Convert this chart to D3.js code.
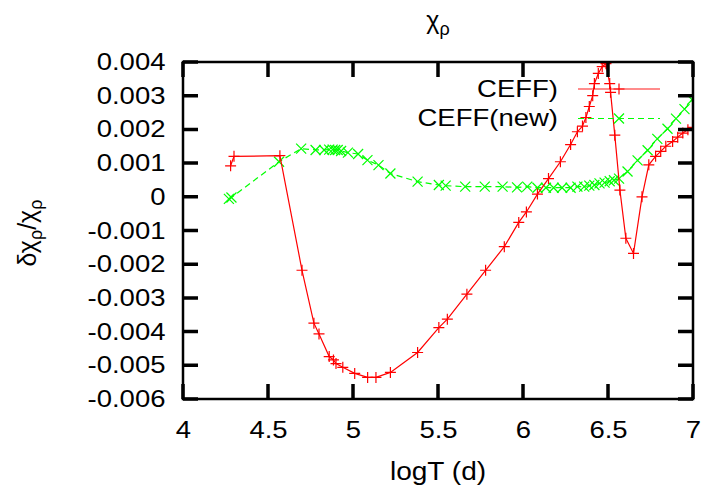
<!DOCTYPE html>
<html>
<head>
<meta charset="utf-8">
<script src="https://cdn.jsdelivr.net/npm/d3@7"></script>
<style>
body { margin: 0; background: #fff; }
text { font-family: "Liberation Sans", Arial, Helvetica, sans-serif; }
</style>
</head>
<body>
<div id="chart"></div>
<script>
// CEFF) -> red, "+" markers, solid line
const ceff_x = [4.28, 4.30, 4.57, 4.70, 4.77, 4.80, 4.86, 4.885, 4.90, 4.94, 5.01, 5.086, 5.135, 5.22,
    5.38, 5.505, 5.555, 5.67, 5.78, 5.89, 5.975, 6.02, 6.085, 6.15, 6.22, 6.28, 6.32, 6.35, 6.37, 6.39,
    6.41, 6.42, 6.443, 6.466, 6.488, 6.51, 6.515, 6.54, 6.57, 6.605, 6.65, 6.70, 6.74, 6.78, 6.81, 6.84,
    6.88, 6.91, 6.94, 6.97, 7.0];
const ceff_y = [0.00092, 0.00120, 0.00122, -0.00218, -0.00375, -0.00407, -0.00474, -0.00484, -0.00495,
    -0.00506, -0.00524, -0.00536, -0.00536, -0.00521, -0.00462, -0.00388, -0.00363, -0.00289, -0.00218,
    -0.00148, -0.00076, -0.00045, 0.00008, 0.00054, 0.00104, 0.00155, 0.00193, 0.00210, 0.00235, 0.00268,
    0.00300, 0.00336, 0.00366, 0.00386, 0.00395, 0.00336, 0.00310, 0.00183, 0.00020, -0.00123, -0.00168,
    0.00000, 0.00095, 0.00120, 0.00135, 0.00150, 0.00164, 0.00177, 0.00189, 0.00199, 0.00206];

// CEFF(new) -> green, "x" markers, dashed line
const ceff_new_x = [4.27, 4.285, 4.565, 4.695, 4.78, 4.83, 4.86, 4.88, 4.895, 4.91, 4.93, 4.97, 5.03,
    5.085, 5.15, 5.22, 5.38, 5.505, 5.545, 5.66, 5.775, 5.88, 5.965, 6.025, 6.085, 6.135, 6.18, 6.23,
    6.28, 6.32, 6.36, 6.39, 6.42, 6.45, 6.48, 6.51, 6.535, 6.565, 6.615, 6.674, 6.733, 6.79, 6.85, 6.90,
    6.95, 6.995];
const ceff_new_y = [-0.00006, -0.00002, 0.00104, 0.00143, 0.00139, 0.00139, 0.00140, 0.00140, 0.00139,
    0.00139, 0.00136, 0.00131, 0.00127, 0.00109, 0.00094, 0.00069, 0.00045, 0.00035, 0.00033, 0.00030,
    0.00030, 0.00030, 0.00028, 0.00030, 0.00027, 0.00027, 0.00027, 0.00027, 0.00027, 0.00030, 0.00030,
    0.00033, 0.00035, 0.00040, 0.00042, 0.00046, 0.00049, 0.00054, 0.00075, 0.00108, 0.00138, 0.00172,
    0.00202, 0.00232, 0.00260, 0.00288];

const series_names = ["CEFF)", "CEFF(new)"];
const series_colors = ["#ff0000", "#00ff00"];

const x_ticks = [4, 4.5, 5, 5.5, 6, 6.5, 7];
const x_tick_labels = ["4", "4.5", "5", "5.5", "6", "6.5", "7"];
const y_ticks = [0.004, 0.003, 0.002, 0.001, 0, -0.001, -0.002, -0.003, -0.004, -0.005, -0.006];
const y_tick_labels = ["0.004", "0.003", "0.002", "0.001", "0", "-0.001", "-0.002", "-0.003", "-0.004", "-0.005", "-0.006"];

const width = 712, height = 490;
const margin = {left: 183, top: 62, right: 19, bottom: 91};
const plot_w = width - margin.left - margin.right;
const plot_h = height - margin.top - margin.bottom;
const tick_len = 15;
const font_size = "23.5px";
const stretch = "scale(1.17,1)";

const x = d3.scaleLinear().domain([4, 7]).range([0, plot_w]);
const y = d3.scaleLinear().domain([-0.006, 0.004]).range([plot_h, 0]);

let svg = d3.select("#chart")
            .append("svg")
            .attr("width", width)
            .attr("height", height);

let g = svg.append("g").attr("transform", `translate(${margin.left},${margin.top})`);

// tick labels from the d3 axes
let x_axis = g.append("g")
              .attr("transform", `translate(0,${plot_h})`)
              .call(d3.axisBottom(x).tickValues(x_ticks).tickFormat((d, i) => x_tick_labels[i]).tickSize(0));
x_axis.select(".domain").remove();
x_axis.selectAll("text")
      .attr("y", 39).attr("dy", 0)
      .attr("transform", stretch)
      .attr("fill", "#000")
      .style("font-size", font_size);

let y_axis = g.append("g")
              .call(d3.axisLeft(y).tickValues(y_ticks).tickFormat((d, i) => y_tick_labels[i]).tickSize(0));
y_axis.select(".domain").remove();
y_axis.selectAll("text")
      .attr("x", -15)
      .attr("transform", stretch)
      .attr("fill", "#000")
      .style("font-size", font_size);

// data
g.append("clipPath").attr("id", "clip")
 .append("rect").attr("x", -1).attr("y", -1).attr("width", plot_w + 2).attr("height", plot_h + 2);

const plus_path = "M-5.5,0H5.5M0,-5.5V5.5";
const cross_path = "M-5,-5L5,5M-5,5L5,-5";

const line = d3.line().x(d => x(d[0])).y(d => y(d[1]));

let data_g = g.append("g").attr("clip-path", "url(#clip)");

let ceff = d3.zip(ceff_x, ceff_y);
let ceff_new = d3.zip(ceff_new_x, ceff_new_y);

data_g.append("path")
      .attr("d", line(ceff_new))
      .attr("fill", "none")
      .attr("stroke", series_colors[1])
      .attr("stroke-width", 1.2)
      .attr("stroke-dasharray", "6,4");
data_g.selectAll(".pt-new")
      .data(ceff_new)
      .enter()
      .append("path")
      .attr("class", "pt-new")
      .attr("transform", d => `translate(${x(d[0])},${y(d[1])})`)
      .attr("d", cross_path)
      .attr("stroke", series_colors[1])
      .attr("stroke-width", 1.2);

data_g.append("path")
      .attr("d", line(ceff))
      .attr("fill", "none")
      .attr("stroke", series_colors[0])
      .attr("stroke-width", 1.2);
data_g.selectAll(".pt")
      .data(ceff)
      .enter()
      .append("path")
      .attr("class", "pt")
      .attr("transform", d => `translate(${x(d[0])},${y(d[1])})`)
      .attr("d", plus_path)
      .attr("stroke", series_colors[0])
      .attr("stroke-width", 1.2);

// tick marks: inward, mirrored on all four sides
let tp = d3.path();
x_ticks.forEach(function(t) {
    tp.moveTo(x(t), plot_h); tp.lineTo(x(t), plot_h - tick_len);
    tp.moveTo(x(t), 0); tp.lineTo(x(t), tick_len);
});
y_ticks.forEach(function(t) {
    tp.moveTo(0, y(t)); tp.lineTo(tick_len, y(t));
    tp.moveTo(plot_w, y(t)); tp.lineTo(plot_w - tick_len, y(t));
});
g.append("path")
 .attr("d", tp.toString())
 .attr("fill", "none")
 .attr("stroke", "#000")
 .attr("stroke-width", 3.5);

g.append("rect")
 .attr("width", plot_w)
 .attr("height", plot_h)
 .attr("fill", "none")
 .attr("stroke", "#000")
 .attr("stroke-width", 2.5);

// key, top right
const key_rows = [89, 118.5];
const key_text_base = [97, 126];
for(let i=0;i<series_names.length;i++) {
    svg.append("g")
       .attr("transform", `translate(558,${key_text_base[i]}) ${stretch}`)
       .append("text")
       .attr("text-anchor", "end")
       .style("font-size", font_size)
       .text(series_names[i]);
    let ln = svg.append("line")
       .attr("x1", 578).attr("x2", 660)
       .attr("y1", key_rows[i]).attr("y2", key_rows[i])
       .attr("stroke", series_colors[i])
       .attr("stroke-width", i == 0 ? 2 : 1.2);
    if(i == 0) ln.attr("stroke-opacity", 0.45);
    else ln.attr("stroke-dasharray", "6,4");
    svg.append("path")
       .attr("transform", `translate(619,${key_rows[i]})`)
       .attr("d", i == 0 ? plus_path : cross_path)
       .attr("stroke", series_colors[i])
       .attr("stroke-width", 1.2);
}

// title
let title = svg.append("text")
               .attr("x", 438).attr("y", 29)
               .attr("text-anchor", "middle")
               .style("font-size", "25px");
title.append("tspan").text("χ");
title.append("tspan").attr("dy", 6).style("font-size", "18px").text("ρ");

// axis labels
svg.append("g")
   .attr("transform", `translate(438,480) scale(1.08,1)`)
   .append("text")
   .attr("text-anchor", "middle")
   .style("font-size", "26px")
   .text("logT (d)");

let ylab = svg.append("text")
              .attr("transform", "translate(36,233) rotate(-90)")
              .attr("text-anchor", "middle")
              .style("font-size", "25px");
ylab.append("tspan").text("δχ");
ylab.append("tspan").attr("dy", 6).style("font-size", "18px").text("ρ");
ylab.append("tspan").attr("dy", -6).text("/χ");
ylab.append("tspan").attr("dy", 6).style("font-size", "18px").text("ρ");
</script>
</body>
</html>
